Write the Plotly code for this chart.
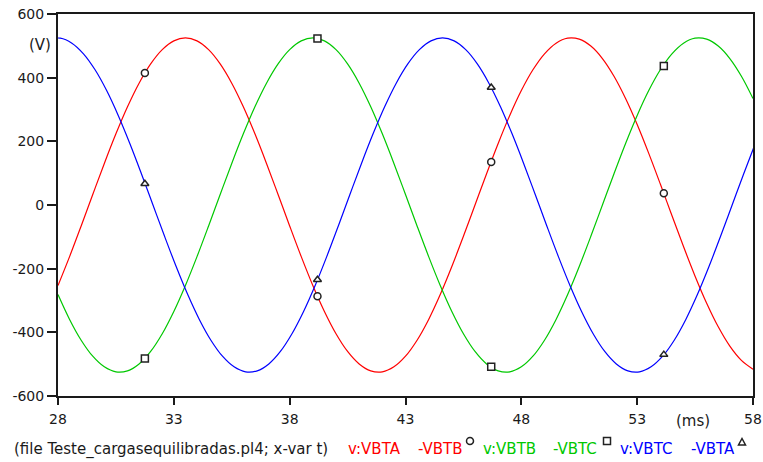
import plotly.graph_objects as go

# Sample times (ms)
t_ms = [28 + 0.5 * i for i in range(61)]
t_blue_ms = [27.6 + 0.5 * i for i in range(62)]

# Line-to-line voltages (V)
v_ab = [-252.9, -162.2, -65.8, 33.0, 130.6, 223.5, 308.6, 382.7, 443.3, 488.1, 515.7,
        525.0, 515.7, 488.1, 443.3, 382.7, 308.6, 223.5, 130.6, 33.0, -65.8,
        -162.2, -252.9, -334.6, -404.5, -460.1, -499.3, -520.9, -524.0, -508.5, -475.0,
        -424.7, -359.4, -281.3, -193.3, -98.4, 0.0, 98.4, 193.3, 281.3, 359.4,
        424.7, 475.0, 508.5, 524.0, 520.9, 499.3, 460.1, 404.5, 334.6, 252.9,
        162.2, 65.8, -33.0, -130.6, -223.5, -308.6, -382.7, -443.3, -488.1, -515.7]

v_bc = [-281.3, -359.4, -424.7, -475.0, -508.5, -524.0, -520.9, -499.3, -460.1, -404.5,
        -334.6, -252.9, -162.2, -65.8, 33.0, 130.6, 223.5, 308.6, 382.7, 443.3,
        488.1, 515.7, 525.0, 515.7, 488.1, 443.3, 382.7, 308.6, 223.5, 130.6,
        33.0, -65.8, -162.2, -252.9, -334.6, -404.5, -460.1, -499.3, -520.9, -524.0,
        -508.5, -475.0, -424.7, -359.4, -281.3, -193.3, -98.4, 0.0, 98.4, 193.3,
        281.3, 359.4, 424.7, 475.0, 508.5, 524.0, 520.9, 499.3, 460.1, 404.5, 334.6]

v_ca = [520.9, 524.0, 508.5, 475.0, 424.7, 359.4, 281.3, 193.3, 98.4, 0.0,
        -98.4, -193.3, -281.3, -359.4, -424.7, -475.0, -508.5, -524.0, -520.9, -499.3,
        -460.1, -404.5, -334.6, -252.9, -162.2, -65.8, 33.0, 130.6, 223.5, 308.6,
        382.7, 443.3, 488.1, 515.7, 525.0, 515.7, 488.1, 443.3, 382.7, 308.6,
        223.5, 130.6, 33.0, -65.8, -162.2, -252.9, -334.6, -404.5, -460.1, -499.3,
        -520.9, -524.0, -508.5, -475.0, -424.7, -359.4, -281.3, -193.3, -98.4, 0.0,
        98.4, 193.3]

# Curve identification markers
mark_t = [31.75, 39.2, 46.7, 54.15]
mark_ab = [415, -287, 135, 37]
mark_bc = [-482, 523, -508, 437]
mark_ca = [67, -235, 369, -470]

x_ticks = [28, 33, 38, 43, 48, 53, 58]
y_ticks = [-600, -400, -200, 0, 200, 400, 600]

RED = "#ff0000"
GREEN = "#00c800"
BLUE = "#0000ff"
FONT = "DejaVu Sans"
TXT = "#1a1a1a"
FRAME = "#1a1a1a"

W, H = 763, 462
L, R, T, B = 58, 10, 14, 66
PW, PH = W - L - R, H - T - B


def px(x):
    return (x - L) / PW


def py(y):
    return (H - B - y) / PH


fig = go.Figure()
for tt, vv, col in [(t_ms, v_ab, RED), (t_ms, v_bc, GREEN), (t_blue_ms, v_ca, BLUE)]:
    fig.add_trace(go.Scatter(x=tt, y=vv, mode="lines",
                             line=dict(color=col, width=1.2, shape="spline", smoothing=1.0),
                             hoverinfo="skip"))

for vv, sym in [(mark_ab, "circle"), (mark_bc, "square"), (mark_ca, "triangle-up")]:
    fig.add_trace(go.Scatter(x=mark_t, y=vv, mode="markers",
                             marker=dict(symbol=sym, size=7, color="white",
                                         line=dict(color="#222222", width=1.5)),
                             hoverinfo="skip"))

ann = []


def label(x, y, text, color=TXT, size=15, anchor="left"):
    ann.append(dict(x=px(x), y=py(y), xref="paper", yref="paper", text=text,
                    showarrow=False, xanchor=anchor, yanchor="middle",
                    font=dict(family=FONT, size=size, color=color)))


label(40, 45, "(V)", anchor="center")
label(693, 421, "(ms)", anchor="center")
label(12, 449, "(file Teste_cargasequilibradas.pl4; x-var t)")
label(346, 449, "v:VBTA", RED)
label(416, 449, "-VBTB", RED)
label(481, 449, "v:VBTB", GREEN)
label(551, 449, "-VBTC", GREEN)
label(618, 449, "v:VBTC", BLUE)
label(689, 449, "-VBTA", BLUE)

# small curve symbols next to the legend entries
shapes = []
sym_line = dict(color="#222222", width=1.5)
shapes.append(dict(type="circle", xref="paper", yref="paper", xsizemode="pixel",
                   ysizemode="pixel", xanchor=px(470), yanchor=py(441),
                   x0=-3.5, x1=3.5, y0=-3.5, y1=3.5, line=sym_line, fillcolor="white"))
shapes.append(dict(type="rect", xref="paper", yref="paper", xsizemode="pixel",
                   ysizemode="pixel", xanchor=px(607), yanchor=py(441),
                   x0=-3.5, x1=3.5, y0=-3.5, y1=3.5, line=sym_line, fillcolor="white"))
shapes.append(dict(type="path", xref="paper", yref="paper", xsizemode="pixel",
                   ysizemode="pixel", xanchor=px(742), yanchor=py(442),
                   path="M -3.5 -3 L 3.5 -3 L 0 3.5 Z", line=sym_line, fillcolor="white"))

fig.update_layout(
    width=W, height=H,
    margin=dict(l=L, r=R, t=T, b=B, autoexpand=False),
    paper_bgcolor="white", plot_bgcolor="white",
    showlegend=False,
    annotations=ann,
    shapes=shapes,
    font=dict(family=FONT, size=15, color=TXT),
)
fig.update_xaxes(range=[28, 58], tickvals=x_ticks, ticktext=[str(v) for v in x_ticks],
                 showgrid=False, zeroline=False, showline=True, linewidth=2,
                 linecolor=FRAME, mirror=True, ticks="outside", ticklen=7,
                 tickwidth=1.5, tickcolor=FRAME, automargin=False,
                 ticklabelstandoff=2,
                 tickfont=dict(family=FONT, size=14, color=TXT))
fig.update_yaxes(range=[-600, 600], tickvals=y_ticks, ticktext=[str(v) for v in y_ticks],
                 showgrid=False, zeroline=False, showline=True, linewidth=2,
                 linecolor=FRAME, mirror=True, ticks="outside", ticklen=9,
                 tickwidth=1.5, tickcolor=FRAME, automargin=False,
                 tickfont=dict(family=FONT, size=14, color=TXT))

fig.write_html("out.html")
